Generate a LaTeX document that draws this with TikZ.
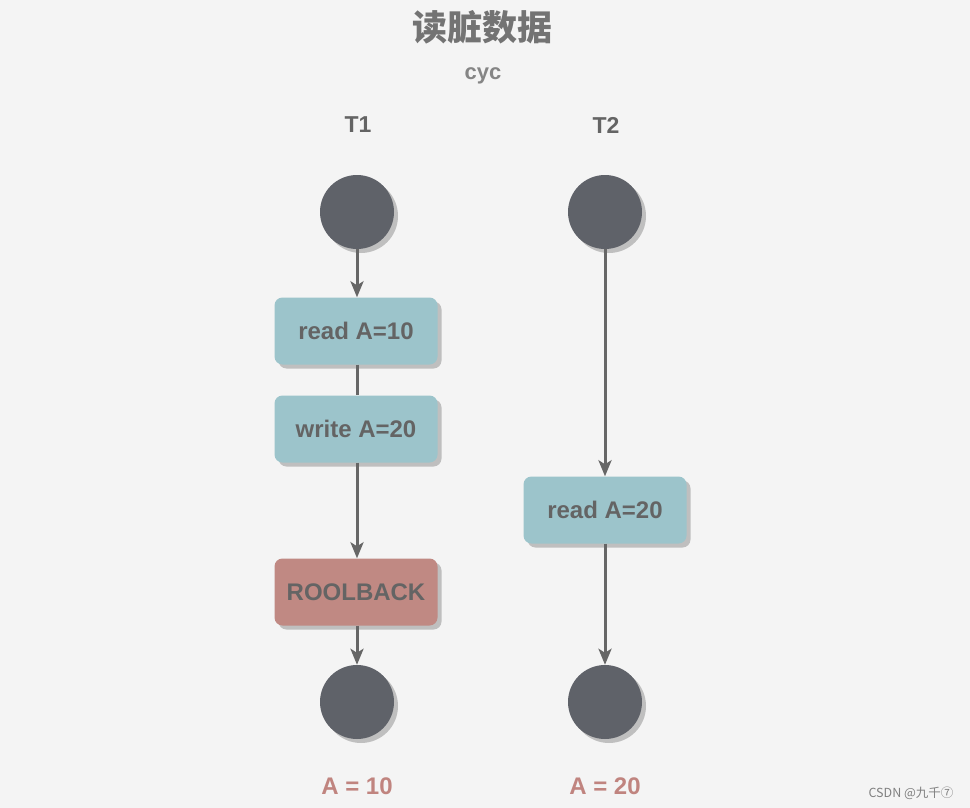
\documentclass[tikz,border=0pt]{standalone}
\usepackage{fontspec}
\setmainfont{Liberation Sans}
\newfontfamily\cjk{Noto Sans CJK SC}
\usepackage{xcolor}
\usepackage{tikz}
\usetikzlibrary{arrows.meta,positioning,shadows}
\definecolor{bgcol}{HTML}{F4F4F4}
\definecolor{dotcol}{HTML}{5F6269}
\definecolor{boxcol}{HTML}{9CC4CB}
\definecolor{backcol}{HTML}{C08983}
\definecolor{txtcol}{HTML}{646464}
\definecolor{linecol}{HTML}{666666}
\definecolor{rescol}{HTML}{C0847F}
\tikzset{
  >={Stealth[length=16pt,width=13pt,inset=4pt]},
  shade/.style={drop shadow={shadow xshift=4pt, shadow yshift=-4pt, fill=black!25, opacity=1}},
  dot/.style={circle, fill=dotcol, minimum size=74pt, inner sep=0pt, shade},
  opbox/.style={rounded corners=8pt, fill=boxcol, minimum width=163pt, minimum height=67pt,
    inner sep=0pt, font=\bfseries\fontsize{24}{28}\selectfont, text=txtcol, shade},
  backbox/.style={opbox, fill=backcol},
  head/.style={font=\bfseries\fontsize{23}{27}\selectfont, text=txtcol},
  result/.style={font=\bfseries\fontsize{24}{28}\selectfont, text=rescol},
  thinarrow/.style={->, line width=3pt, draw=linecol},
  plainline/.style={line width=3pt, draw=linecol},
}
\begin{document}
\begin{tikzpicture}[x=1pt, y=-1pt]
  \fill[bgcol] (0,0) rectangle (970,808);
  \useasboundingbox (0,0) rectangle (970,808);

  % titles
  \node[font=\cjk\bfseries\fontsize{35}{40}\selectfont, text=black!55] (title) at (482,27) {读脏数据};
  \node[font=\bfseries\fontsize{22}{26}\selectfont, text=black!48] (sub) at (483,76) {cyc};
  \node[head] (h1) at (358,125) {T1};
  \node[head] (h2) at (606,125) {T2};

  % transaction T1
  \node[dot] (t1start) at (357,212) {};
  \node[opbox] (t1read) at (356,331) {read A=10};
  \node[opbox] (t1write) at (356,429) {write A=20};
  \node[backbox] (t1back) at (356,592) {ROOLBACK};
  \node[dot] (t1end) at (357,702) {};

  % transaction T2
  \node[dot] (t2start) at (605,212) {};
  \node[opbox] (t2read) at (605,510) {read A=20};
  \node[dot] (t2end) at (605,702) {};

  \draw[thinarrow] (t1start) -- (t1start |- t1read.north);
  \draw[plainline] (t1read.south -| t1start) -- (t1write.north -| t1start);
  \draw[thinarrow] (t1write.south -| t1start) -- (t1back.north -| t1start);
  \draw[thinarrow] (t1back.south -| t1start) -- (t1end);
  \draw[thinarrow] (t2start) -- (t2read);
  \draw[thinarrow] (t2read) -- (t2end);

  % results
  \node[result] (r1) at (357,786) {A = 10};
  \node[result] (r2) at (605,786) {A = 20};

  \node[font=\cjk\fontsize{12.5}{14}\selectfont, text=black!50] (mark) at (911,793) {CSDN @九千⑦};
\end{tikzpicture}
\end{document}
